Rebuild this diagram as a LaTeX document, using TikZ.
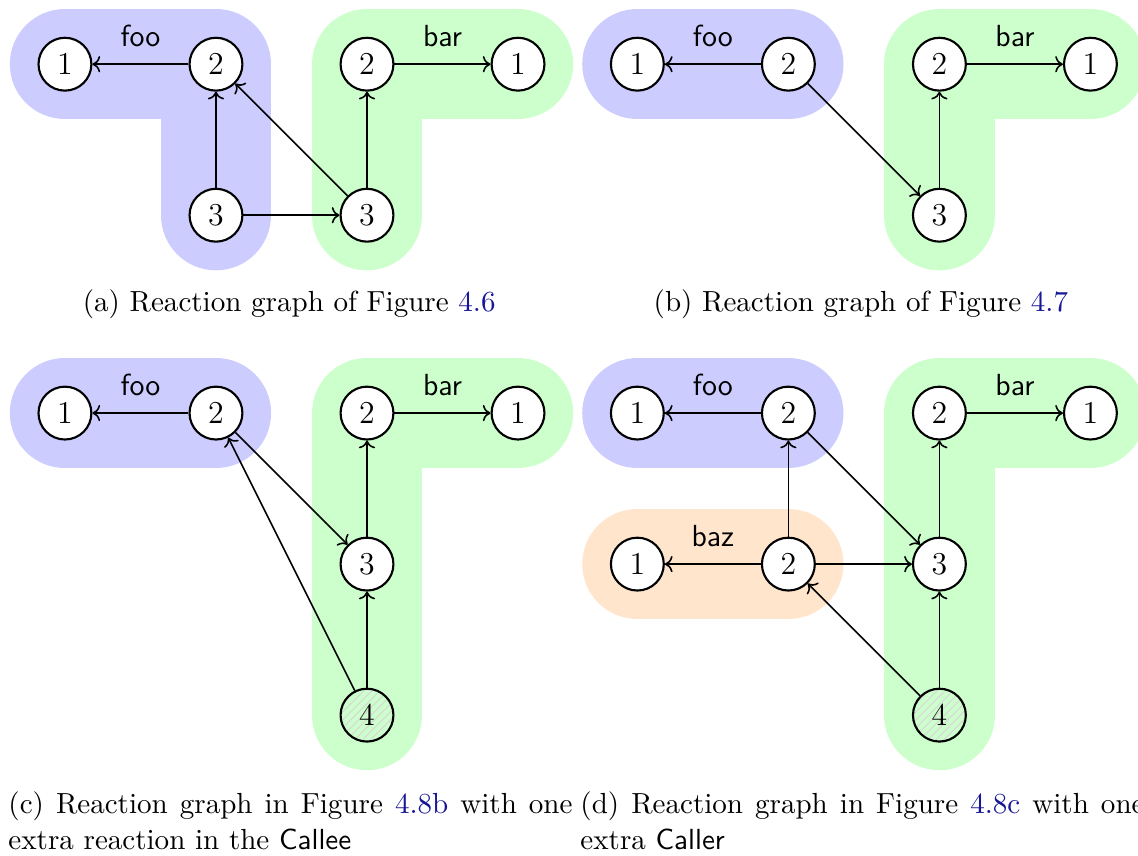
\documentclass[tikz,border=0pt]{standalone}
\usepackage{amsmath, amssymb}
\usepackage{tikz}
\usetikzlibrary{arrows.meta}
\usetikzlibrary{positioning,patterns}
\usepackage{xcolor}
\definecolor{linkblue}{RGB}{22,22,150}
\tikzset{
    rnode/.style={
        draw,
        circle,
        thick,
        fill=white,
        minimum size=0.7cm,
        inner sep=1pt,
        font=\fontsize{12}{14}\selectfont
    },
    newnode/.style={
        rnode,
        fill=none,
        pattern=north east lines,
        pattern color=black!15
    },
    band/.style={
        line width=1.46cm,
        line cap=round,
        line join=round
    },
    react/.style={
        draw,
        ->,
        semithick
    },
    actor/.style={font=\fontsize{11.5}{13}\sffamily},
    capt/.style={font=\fontsize{10.95}{13.6}\selectfont, inner sep=0pt}
}

\begin{document}
\begin{tikzpicture}[scale=1.0]
    \useasboundingbox (-0.86,0.85) rectangle (14.21,-10.48);

    % (a) reaction graph
    \draw[band, blue!20] (0,0) -- (2,0) -- (2,-2);
    \draw[band, green!20] (6,0) -- (4,0) -- (4,-2);
    \node[actor] at (1,0.37) {foo};
    \node[actor] at (5,0.37) {bar};
    \node[rnode] (a-f1) at (0,0) {$1$};
    \node[rnode] (a-f2) at (2,0) {$2$};
    \node[rnode] (a-f3) at (2,-2) {$3$};
    \node[rnode] (a-b2) at (4,0) {$2$};
    \node[rnode] (a-b1) at (6,0) {$1$};
    \node[rnode] (a-b3) at (4,-2) {$3$};

    \draw[react] (a-f2) -- (a-f1);
    \draw[react] (a-f3) -- (a-f2);
    \draw[react] (a-f3) -- (a-b3);
    \draw[react] (a-b3) -- (a-f2);
    \draw[react] (a-b3) -- (a-b2);
    \draw[react] (a-b2) -- (a-b1);
    \node[capt, anchor=base] at (2.97,-3.27) {(a) Reaction graph of Figure \textcolor{linkblue}{4.6}};

    % (b) reaction graph
    \draw[band, blue!20] (7.58,0) -- (9.58,0);
    \draw[band, green!20] (13.58,0) -- (11.58,0) -- (11.58,-2);
    \node[actor] at (8.58,0.37) {foo};
    \node[actor] at (12.58,0.37) {bar};
    \node[rnode] (b-f1) at (7.58,0) {$1$};
    \node[rnode] (b-f2) at (9.58,0) {$2$};
    \node[rnode] (b-b2) at (11.58,0) {$2$};
    \node[rnode] (b-b1) at (13.58,0) {$1$};
    \node[rnode] (b-b3) at (11.58,-2) {$3$};

    \draw[react] (b-f2) -- (b-f1);
    \draw[react] (b-f2) -- (b-b3);
    \draw[react] (b-b3) -- (b-b2);
    \draw[react] (b-b2) -- (b-b1);
    \node[capt, anchor=base] at (10.54,-3.27) {(b) Reaction graph of Figure \textcolor{linkblue}{4.7}};

    % (c) one more reaction in the callee
    \draw[band, blue!20] (0,-4.62) -- (2,-4.62);
    \draw[band, green!20] (6,-4.62) -- (4,-4.62) -- (4,-8.62);
    \node[actor] at (1,-4.25) {foo};
    \node[actor] at (5,-4.25) {bar};
    \node[rnode] (c-f1) at (0,-4.62) {$1$};
    \node[rnode] (c-f2) at (2,-4.62) {$2$};
    \node[rnode] (c-b2) at (4,-4.62) {$2$};
    \node[rnode] (c-b1) at (6,-4.62) {$1$};
    \node[rnode] (c-b3) at (4,-6.62) {$3$};
    \node[newnode] (c-b4) at (4,-8.62) {$4$};

    \draw[react] (c-f2) -- (c-f1);
    \draw[react] (c-f2) -- (c-b3);
    \draw[react] (c-b4) -- (c-f2);
    \draw[react] (c-b4) -- (c-b3);
    \draw[react] (c-b3) -- (c-b2);
    \draw[react] (c-b2) -- (c-b1);
    \node[capt, anchor=base west, text width=7.47cm, align=justify] at (-0.755,-9.92)
        {(c) Reaction graph in Figure \textcolor{linkblue}{4.8b} with one extra reaction in the \textsf{Callee}};

    % (d) one more caller
    \draw[band, blue!20] (7.58,-4.62) -- (9.58,-4.62);
    \draw[band, orange!20] (7.58,-6.62) -- (9.58,-6.62);
    \draw[band, green!20] (13.58,-4.62) -- (11.58,-4.62) -- (11.58,-8.62);
    \node[actor] at (8.58,-4.25) {foo};
    \node[actor] at (8.58,-6.25) {baz};
    \node[actor] at (12.58,-4.25) {bar};
    \node[rnode] (d-f1) at (7.58,-4.62) {$1$};
    \node[rnode] (d-f2) at (9.58,-4.62) {$2$};
    \node[rnode] (d-z1) at (7.58,-6.62) {$1$};
    \node[rnode] (d-z2) at (9.58,-6.62) {$2$};
    \node[rnode] (d-b2) at (11.58,-4.62) {$2$};
    \node[rnode] (d-b1) at (13.58,-4.62) {$1$};
    \node[rnode] (d-b3) at (11.58,-6.62) {$3$};
    \node[newnode] (d-b4) at (11.58,-8.62) {$4$};

    \draw[react] (d-f2) -- (d-f1);
    \draw[react] (d-z2) -- (d-f2);
    \draw[react] (d-z2) -- (d-z1);
    \draw[react] (d-z2) -- (d-b3);
    \draw[react] (d-f2) -- (d-b3);
    \draw[react] (d-b4) -- (d-z2);
    \draw[react] (d-b4) -- (d-b3);
    \draw[react] (d-b3) -- (d-b2);
    \draw[react] (d-b2) -- (d-b1);
    \node[capt, anchor=base west, text width=7.47cm, align=justify] at (6.82,-9.92)
        {(d) Reaction graph in Figure \textcolor{linkblue}{4.8c} with one extra \textsf{Caller}};
\end{tikzpicture}
\end{document}
